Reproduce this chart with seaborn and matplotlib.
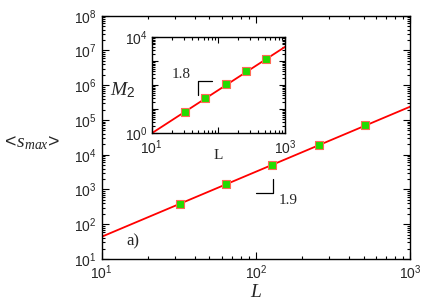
import numpy as np
import pandas as pd
import matplotlib
matplotlib.use("Agg")
import matplotlib.pyplot as plt
from matplotlib.ticker import LogLocator, NullFormatter
import seaborn as sns

L_values = [32, 64, 128, 256, 512]
s_max = [382, 1440, 5160, 19000, 74000]
M2 = [7.9, 30.4, 110, 395, 1250]

# power-law fits
main_prefactor, main_exponent = 0.59, 1.87
inset_prefactor, inset_exponent = 10 ** -1.8, 1.8

sns.set_theme(style="ticks")
plt.rcParams["font.family"] = ["Liberation Sans", "DejaVu Sans"]
plt.rcParams["mathtext.fontset"] = "custom"
plt.rcParams["mathtext.rm"] = "Liberation Sans"
plt.rcParams["mathtext.it"] = "Liberation Serif:italic"
plt.rcParams["mathtext.cal"] = "Liberation Serif"
plt.rcParams["mathtext.default"] = "regular"

df = pd.DataFrame({"L": L_values, "s_max": s_max, "M2": M2})
fit_L = np.array([10, 1000])
fit = pd.DataFrame({"L": fit_L,
                    "s": main_prefactor * fit_L ** main_exponent,
                    "m": inset_prefactor * fit_L ** inset_exponent})

fig = plt.figure(figsize=(4.36, 3.05), dpi=100)
ax = fig.add_axes([0.2333, 0.1508, 0.707, 0.7977])
ins = fig.add_axes([0.348, 0.563, 0.3057, 0.3148])

def style_axis(a):
    a.set_xscale("log")
    a.set_yscale("log")
    for axis in (a.xaxis, a.yaxis):
        axis.set_minor_locator(LogLocator(base=10, subs=range(2, 10), numticks=100))
        axis.set_minor_formatter(NullFormatter())
    a.tick_params(which="both", direction="in", top=True, right=True,
                  labelsize=10, color="black", width=0.8)
    a.tick_params(which="major", length=5)
    a.tick_params(which="minor", length=2.5)
    for sp in a.spines.values():
        sp.set_color("black")
        sp.set_linewidth(1.0)

# --- main panel ---
sns.lineplot(data=fit, x="L", y="s", color="red", lw=1.3, ax=ax, zorder=2)
sns.scatterplot(data=df, x="L", y="s_max", marker="s", s=28, color="#22dd00",
                edgecolor="#ff6a55", linewidth=0.8, ax=ax, zorder=3)
style_axis(ax)
ax.set_xlim(10, 1000)
ax.set_ylim(10, 1e8)
ax.set_yticks([10 ** k for k in range(1, 9)])
ax.set_xlabel("$\\mathit{L}$", fontsize=14, labelpad=1)
ax.set_ylabel("$<\\!\\mathit{s_{max}}\\!>$", fontsize=14, rotation=0,
              ha="left", va="center")
ax.yaxis.set_label_coords(-0.322, 0.475)
ax.plot([100, 129, 129], [776, 776, 1950], color="black", lw=0.9)
ax.text(141, 467, "1.9", fontsize=11, family="Liberation Serif", va="center")
ax.text(14.4, 33, "a)", fontsize=12, family="Liberation Serif", va="center")

# --- inset ---
sns.lineplot(data=fit, x="L", y="m", color="red", lw=1.3, ax=ins, zorder=2)
sns.scatterplot(data=df, x="L", y="M2", marker="s", s=28, color="#22dd00",
                edgecolor="#ff6a55", linewidth=0.8, ax=ins, zorder=3)
style_axis(ins)
ins.set_xlim(10, 1000)
ins.set_ylim(1, 1e4)
ins.set_xticks([10, 100, 1000])
ins.set_xticklabels(["$10^1$", "", "$10^3$"])
ins.set_yticks([1, 10, 100, 1000, 1e4])
ins.set_yticklabels(["$10^0$", "", "", "", "$10^4$"])
ins.tick_params(which="major", length=4, labelsize=10)
ins.tick_params(axis="x", pad=4)
ins.tick_params(axis="y", pad=3)
ins.tick_params(which="minor", length=2)
ins.set_xlabel("L", fontsize=11, family="Liberation Serif", labelpad=-6)
ins.set_ylabel("$\\mathit{M_2}$", fontsize=14, rotation=0, ha="center", va="center")
ins.yaxis.set_label_coords(-0.22, 0.45)
ins.plot([50, 50, 81], [40, 150, 150], color="black", lw=0.9)
ins.text(28, 269, "1.8", fontsize=11, family="Liberation Serif",
         ha="center", va="center")

fig.savefig("out.png", dpi=100)
